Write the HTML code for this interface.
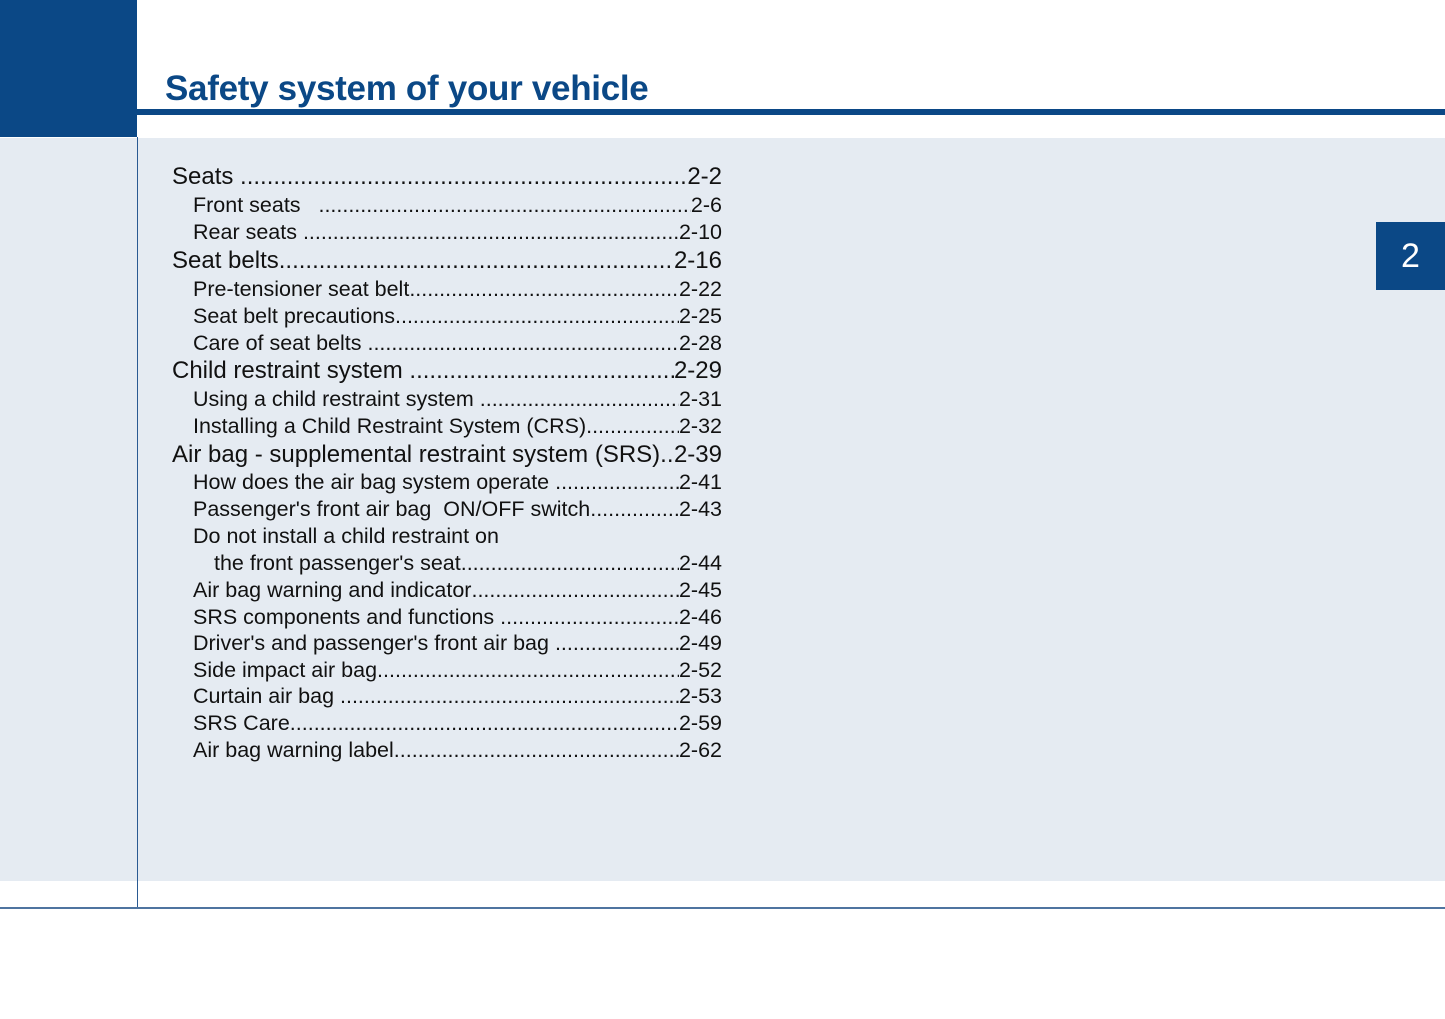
<!DOCTYPE html>
<html><head><meta charset="utf-8"><style>
body{margin:0;width:1445px;height:1019px;background:#fff;position:relative;overflow:hidden;font-family:"Liberation Sans",sans-serif;}
.a{position:absolute;}
.row{position:absolute;display:flex;height:28px;line-height:28px;color:#111;white-space:nowrap;}
.row .d{flex:1;overflow:hidden;letter-spacing:0px;}
.h{font-size:24px;left:172px;width:550px;}
.s{font-size:21.5px;left:193px;width:529px;}
</style></head><body>
<div class="a" style="left:0;top:0;width:137px;height:137px;background:#0b4886"></div>
<div class="a" style="left:137px;top:109px;width:1308px;height:6px;background:#0b4886"></div>
<div class="a" style="left:0;top:138px;width:1445px;height:743px;background:#e5ebf2"></div>
<div class="a" style="left:137px;top:137px;width:1px;height:772px;background:#2a5a92"></div>
<div class="a" style="left:0;top:907px;width:1445px;height:2px;background:#4f74a0"></div>
<div class="a" style="left:165px;top:69px;font-size:35px;font-weight:bold;color:#0b4886;letter-spacing:-0.3px;">Safety system of your vehicle</div>
<div class="a" style="left:1376px;top:222px;width:69px;height:68px;background:#0b4886;color:#fff;font-size:34px;line-height:68px;text-align:center;">2</div>

<div class="row h" style="top:163px"><span>Seats&nbsp;</span><span class="d">..............................................................................................................</span><span>2-2</span></div>
<div class="row s" style="top:191px"><span>Front seats &nbsp;&nbsp;</span><span class="d">....................................................................................................................</span><span>2-6</span></div>
<div class="row s" style="top:218px"><span>Rear seats&nbsp;</span><span class="d">....................................................................................................................</span><span>2-10</span></div>
<div class="row h" style="top:247px"><span>Seat belts</span><span class="d">..............................................................................................................</span><span>2-16</span></div>
<div class="row s" style="top:275px"><span>Pre-tensioner seat belt</span><span class="d">....................................................................................................................</span><span>2-22</span></div>
<div class="row s" style="top:302px"><span>Seat belt precautions</span><span class="d">....................................................................................................................</span><span>2-25</span></div>
<div class="row s" style="top:329px"><span>Care of seat belts&nbsp;</span><span class="d">....................................................................................................................</span><span>2-28</span></div>
<div class="row h" style="top:357px"><span>Child restraint system&nbsp;</span><span class="d">..............................................................................................................</span><span>2-29</span></div>
<div class="row s" style="top:385px"><span>Using a child restraint system&nbsp;</span><span class="d">....................................................................................................................</span><span>2-31</span></div>
<div class="row s" style="top:412px"><span>Installing a Child Restraint System (CRS)</span><span class="d">....................................................................................................................</span><span>2-32</span></div>
<div class="row h" style="top:441px"><span>Air bag - supplemental restraint system (SRS)</span><span class="d">..............................................................................................................</span><span>2-39</span></div>
<div class="row s" style="top:468px"><span>How does the air bag system operate&nbsp;</span><span class="d">....................................................................................................................</span><span>2-41</span></div>
<div class="row s" style="top:495px"><span>Passenger's front air bag &nbsp;ON/OFF switch</span><span class="d">....................................................................................................................</span><span>2-43</span></div>
<div class="row s" style="top:522px"><span>Do not install a child restraint on</span></div>
<div class="row s" style="top:549px;left:214px;width:508px"><span>the front passenger's seat</span><span class="d">....................................................................................................................</span><span>2-44</span></div>
<div class="row s" style="top:576px"><span>Air bag warning and indicator</span><span class="d">....................................................................................................................</span><span>2-45</span></div>
<div class="row s" style="top:603px"><span>SRS components and functions&nbsp;</span><span class="d">....................................................................................................................</span><span>2-46</span></div>
<div class="row s" style="top:629px"><span>Driver's and passenger's front air bag&nbsp;</span><span class="d">....................................................................................................................</span><span>2-49</span></div>
<div class="row s" style="top:656px"><span>Side impact air bag</span><span class="d">....................................................................................................................</span><span>2-52</span></div>
<div class="row s" style="top:682px"><span>Curtain air bag&nbsp;</span><span class="d">....................................................................................................................</span><span>2-53</span></div>
<div class="row s" style="top:709px"><span>SRS Care</span><span class="d">....................................................................................................................</span><span>2-59</span></div>
<div class="row s" style="top:736px"><span>Air bag warning label</span><span class="d">....................................................................................................................</span><span>2-62</span></div>
</body></html>
